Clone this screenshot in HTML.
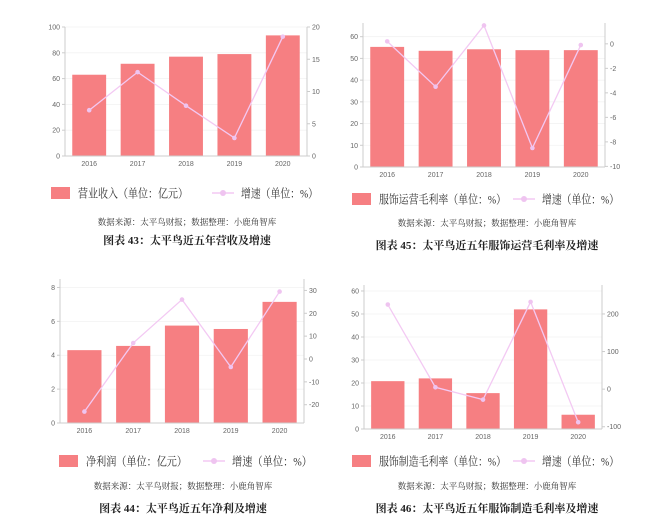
<!DOCTYPE html>
<html><head><meta charset="utf-8">
<style>
html,body{margin:0;padding:0;background:#fff;}
svg{display:block;}
text{font-family:"Liberation Sans","Noto Sans CJK SC",sans-serif;}
.serif{font-family:"Liberation Serif","Noto Serif CJK SC",serif;}
</style></head>
<body>
<svg id="root" width="660" height="528" viewBox="0 0 660 528"></svg>
<script>
const categories = ["2016","2017","2018","2019","2020"];
const revenueValues = [63, 71.5, 77, 79, 93.5];
const revenueGrowth = [7.1, 13, 7.8, 2.8, 18.5];
const opMarginValues = [55.3, 53.5, 54.2, 53.8, 53.8];
const opMarginGrowth = [0.2, -3.5, 1.5, -8.5, -0.1];
const profitValues = [4.3, 4.55, 5.75, 5.55, 7.15];
const profitGrowth = [-23, 7, 26, -3.5, 29.5];
const mfgMarginValues = [20.8, 22, 15.6, 52, 6.2];
const mfgMarginGrowth = [225, 5, -28, 232, -88];
const ticks1L = [0,20,40,60,80,100], ticks1R = [0,5,10,15,20];
const ticks2L = [0,10,20,30,40,50,60], ticks2R = [-10,-8,-6,-4,-2,0];
const ticks3L = [0,2,4,6,8], ticks3R = [-20,-10,0,10,20,30];
const ticks4L = [0,10,20,30,40,50,60], ticks4R = [-100,0,100,200];

const NS = "http://www.w3.org/2000/svg";
const root = document.getElementById('root');
function el(tag, attrs, parent, txt){
  const e = document.createElementNS(NS, tag);
  for (const k in attrs) e.setAttribute(k, attrs[k]);
  if (txt !== undefined) e.textContent = txt;
  (parent||root).appendChild(e);
  return e;
}

function chart(cfg){
  const g = el('g', {});
  
  
  const yL = v => cfg.bottom - (v - cfg.lMin) / (cfg.lMax - cfg.lMin) * (cfg.bottom - cfg.top);
  const yR = v => cfg.bottom - (v - cfg.rMin) / (cfg.rMax - cfg.rMin) * (cfg.bottom - cfg.top);
  const band = (cfg.x1 - cfg.x0) / categories.length;
  const xC = i => cfg.x0 + band * (i + 0.5);
  cfg.lTicks.forEach(t => {
    const gl = el('line', {x1:cfg.x0, x2:cfg.x1, y1:yL(t), y2:yL(t), stroke:'#f2f2f2', 'stroke-width':0.8}, g);
    
    
  });
  cfg.bars.forEach((v, i) => {
    const w = band * 0.7;
    const r = el('rect', {x:xC(i)-w/2, y:yL(v), width:w, height:yL(cfg.lMin)-yL(v), fill:'#f67f82'}, g);
    
    
  });
  const la = el('line', {x1:cfg.x0, x2:cfg.x0, y1:cfg.top, y2:cfg.bottom, stroke:'#ccc', 'stroke-width':1}, g);
  
  
  const ra = el('line', {x1:cfg.x1, x2:cfg.x1, y1:cfg.top, y2:cfg.bottom, stroke:'#ccc', 'stroke-width':1}, g);
  
  
  const xa = el('line', {x1:cfg.x0, x2:cfg.x1, y1:cfg.bottom, y2:cfg.bottom, stroke:'#ccc', 'stroke-width':1}, g);
  
  
  cfg.lTicks.forEach(t => {
    el('line', {x1:cfg.x0-3, x2:cfg.x0, y1:yL(t), y2:yL(t), stroke:'#ccc'}, g);
    const tx = el('text', {x:cfg.x0-5, y:yL(t)+2.5, 'font-size':7, fill:'#666', 'text-anchor':'end'}, g, t);
    
    
  });
  cfg.rTicks.forEach(t => {
    el('line', {x1:cfg.x1, x2:cfg.x1+3, y1:yR(t), y2:yR(t), stroke:'#ccc'}, g);
    const tx = el('text', {x:cfg.x1+5, y:yR(t)+2.5, 'font-size':7, fill:'#666'}, g, t);
    
    
  });
  categories.forEach((c, i) => {
    const tx = el('text', {x:xC(i), y:cfg.bottom+10, 'font-size':7, fill:'#666', 'text-anchor':'middle'}, g, c);
    
    
  });
  const pts = cfg.line.map((v, i) => xC(i) + ',' + yR(v)).join(' ');
  const pl = el('polyline', {points:pts, fill:'none', stroke:'#f3c9f3', 'stroke-width':1.3}, g);
  
  
  cfg.line.forEach((v, i) => {
    const c = el('circle', {cx:xC(i), cy:yR(v), r:2.3, fill:'#efc4f0'}, g);
    
    
  });
  const ly = cfg.legendY;
  const lr = el('rect', {x:cfg.legX, y:ly-6, width:19, height:12, fill:'#f67f82'}, g);
  
  
  const lt = el('text', {x:cfg.legX+27, y:ly+4.5, 'font-size':12, fill:'#333', class:'serif', textLength:cfg.barLen, lengthAdjust:'spacingAndGlyphs'}, g, cfg.barLabel);
  
  
  const ll = el('line', {x1:cfg.lineLegX, x2:cfg.lineLegX+22, y1:ly, y2:ly, stroke:'#f3c9f3', 'stroke-width':1.5}, g);
  
  
  el('circle', {cx:cfg.lineLegX+11, cy:ly, r:3, fill:'#efc4f0'}, g);
  const lt2 = el('text', {x:cfg.lineLegX+29, y:ly+4.5, 'font-size':12, fill:'#333', class:'serif', textLength:cfg.lineLen, lengthAdjust:'spacingAndGlyphs'}, g, '增速（单位：%）');
  
  
  const src = el('text', {x:cfg.center, y:cfg.srcY+3, 'font-size':8.5, fill:'#333', 'text-anchor':'middle', class:'serif'}, g, '数据来源：太平鸟财报；数据整理：小鹿角智库');
  
  
  const tt = el('text', {x:cfg.center, y:cfg.titleY+4, 'font-size':11, 'font-weight':'bold', fill:'#222', 'text-anchor':'middle', class:'serif'}, g, cfg.title);
  
  
}

chart({name:'revenue-chart', x0:65, x1:307, top:27, bottom:156, lMin:0, lMax:100, rMin:0, rMax:20,
  lTicks:ticks1L, rTicks:ticks1R, bars:revenueValues, line:revenueGrowth,
  legendY:193, legX:51, lineLegX:212, barLabel:'营业收入（单位：亿元）', barLen:110, lineLen:77, center:187, srcY:222, titleY:240,
  title:'图表 43：太平鸟近五年营收及增速'});
chart({name:'op-margin-chart', x0:363, x1:605, top:23, bottom:167, lMin:0, lMax:66.3, rMin:-10.05, rMax:1.7,
  lTicks:ticks2L, rTicks:ticks2R, bars:opMarginValues, line:opMarginGrowth,
  legendY:199, legX:352, lineLegX:513, barLabel:'服饰运营毛利率（单位：%）', barLen:127, lineLen:77, center:487, srcY:223, titleY:245,
  title:'图表 45：太平鸟近五年服饰运营毛利率及增速'});
chart({name:'net-profit-chart', x0:60, x1:304, top:279, bottom:423, lMin:0, lMax:8.5, rMin:-28, rMax:35,
  lTicks:ticks3L, rTicks:ticks3R, bars:profitValues, line:profitGrowth,
  legendY:461, legX:59, lineLegX:203, barLabel:'净利润（单位：亿元）', barLen:101, lineLen:80, center:183, srcY:486, titleY:508,
  title:'图表 44：太平鸟近五年净利及增速'});
chart({name:'mfg-margin-chart', x0:364, x1:602, top:285, bottom:429, lMin:0, lMax:62.6, rMin:-106, rMax:277,
  lTicks:ticks4L, rTicks:ticks4R, bars:mfgMarginValues, line:mfgMarginGrowth,
  legendY:461, legX:352, lineLegX:513, barLabel:'服饰制造毛利率（单位：%）', barLen:127, lineLen:77, center:487, srcY:486, titleY:508,
  title:'图表 46：太平鸟近五年服饰制造毛利率及增速'});
</script>
</body></html>
